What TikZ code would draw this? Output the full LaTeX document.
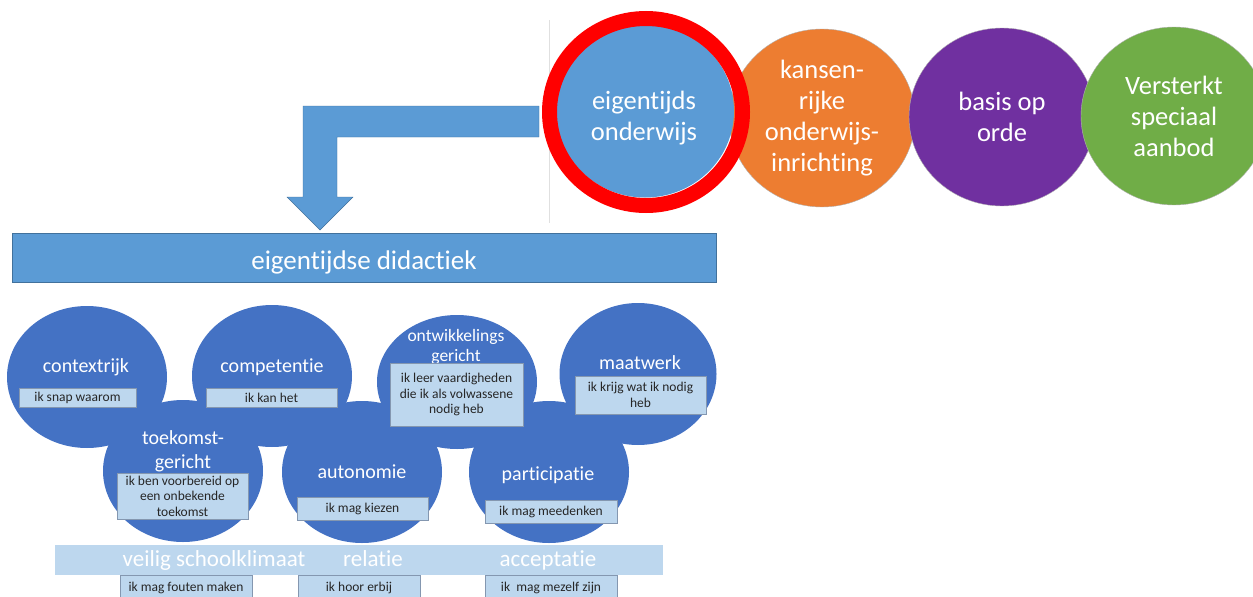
\documentclass[tikz,border=0pt]{standalone}
\usepackage{fontspec}
\setmainfont{Carlito}[Ligatures=NoCommon]
\usepackage{tikz}
\usetikzlibrary{shapes.geometric}

\definecolor{lichtblauw}{HTML}{5B9BD5}
\definecolor{randblauw}{HTML}{41719C}
\definecolor{oranje}{HTML}{ED7D31}
\definecolor{paars}{HTML}{7030A0}
\definecolor{groen}{HTML}{70AD47}
\definecolor{wolkblauw}{HTML}{4472C4}
\definecolor{kaderblauw}{HTML}{BDD7EE}
\definecolor{kaderrand}{HTML}{8497B0}
\definecolor{tekstgrijs}{HTML}{262626}

\tikzset{
  bal/.style={ellipse, inner sep=0pt, draw=black!30, text=white, align=center,
    minimum width=186pt, minimum height=178pt, font=\fontsize{26.5}{31}\selectfont},
  wolk/.style={ellipse, fill=wolkblauw, inner sep=0pt, minimum width=160pt, minimum height=142pt},
  kop/.style={text=white, align=center, inner sep=0pt, font=\fontsize{20}{21}\selectfont},
  kader/.style={rectangle, draw=kaderrand, fill=kaderblauw, inner sep=0pt, align=center,
    text=tekstgrijs, font=\fontsize{13.5}{15.5}\selectfont},
  bandtekst/.style={text=white, inner sep=0pt, anchor=base, font=\fontsize{23}{26}\selectfont}
}

\begin{document}
\begin{tikzpicture}[x=1pt, y=-1pt]
        \useasboundingbox (0,0) rectangle (1253,597);

        % scheiding en pijl
        \draw[black!12] (549,20) -- (549,223);
        \draw[randblauw, fill=lichtblauw] (539,106) -- (303,106) -- (303,197) -- (287,197) -- (320,230)
            -- (353,197) -- (337,197) -- (337,137) -- (539,137) -- cycle;
        \node[rectangle, draw=randblauw, fill=lichtblauw, minimum width=704pt, minimum height=49pt] at (364,257.5) (did) {};
        \node[text=white, inner sep=0pt, anchor=base, font=\fontsize{27}{30}\selectfont] at (364,269) (did_) {eigentijdse didactiek};

        % bovenste rij
        \node[bal, fill=oranje] at (822,118) (kans) {kansen-\\rijke\\onderwijs-\\inrichting};
        \node[bal, fill=paars] at (1002,117) (basis) {basis op\\orde};
        \node[bal, fill=groen] at (1174,116) (vso) {Versterkt\\speciaal\\aanbod};
        \node[bal, fill=lichtblauw, draw=none, minimum width=178pt, minimum height=173pt] at (645,111) (eo) {};
        \node[bal, draw=none] at (644,118) (eo_) {eigentijds\\onderwijs};
        \node[ellipse, draw=red, line width=15pt, minimum width=193pt, minimum height=187pt] at (646,112) (ring) {};

        % wolk van bollen
        \node[wolk] at (87,377) (ctx) {};
        \node[wolk] at (272,376) (comp) {};
        \node[wolk, minimum height=134pt] at (457,382) (ontw) {};
        \node[wolk, minimum width=157pt] at (638,374) (maat) {};
        \node[wolk] at (183,471) (toek) {};
        \node[wolk] at (362,472) (auto) {};
        \node[wolk] at (549,472) (part) {};

        \node[kop, anchor=base] at (86,372) (ctx_) {contextrijk};
        \node[kop, anchor=base] at (272,372) (comp_) {competentie};
        \node[kop, font=\fontsize{17.5}{19.5}\selectfont] at (456,347) (ontw_) {ontwikkelings\\gericht};
        \node[kop, anchor=base] at (640,369) (maat_) {maatwerk};
        \node[kop, font=\fontsize{20}{24}\selectfont] at (183,451) (toek_) {toekomst-\\gericht};
        \node[kop, anchor=base] at (362,478) (auto_) {autonomie};
        \node[kop, anchor=base] at (548,480) (part_) {participatie};

        \node[kader, minimum width=117pt, minimum height=19pt] at (77.5,397.5) (k1) {ik snap waarom};
        \node[kader, minimum width=131pt, minimum height=19pt] at (271.5,397.5) (k2) {ik kan het};
        \node[kader, minimum width=133pt, minimum height=63pt] at (456.5,394.5) (k3) {ik leer vaardigheden\\die ik als volwassene\\nodig heb};
        \node[kader, minimum width=131pt, minimum height=38pt] at (640.5,395) (k4) {ik krijg wat ik nodig\\heb};
        \node[kader, minimum width=131pt, minimum height=46pt] at (182.5,496) (k5) {ik ben voorbereid op\\een onbekende\\toekomst};
        \node[kader, minimum width=131pt, minimum height=23pt] at (362.5,508.5) (k6) {ik mag kiezen};
        \node[kader, minimum width=132pt, minimum height=23pt] at (551,511.5) (k7) {ik mag meedenken};

        % band onderaan
        \node[rectangle, fill=kaderblauw, minimum width=608pt, minimum height=30pt, inner sep=0pt] at (359,560) (band) {};
        \node[bandtekst] at (214,566) (veilig) {veilig schoolklimaat};
        \node[bandtekst] at (373,566) (rel) {relatie};
        \node[bandtekst] at (548,566) (acc) {acceptatie};

        \node[kader, minimum width=132pt, minimum height=25pt] at (186,587.5) (k8) {ik mag fouten maken};
        \node[kader, minimum width=122pt, minimum height=25pt] at (359,587.5) (k9) {ik hoor erbij};
        \node[kader, minimum width=132pt, minimum height=25pt] at (551,587.5) (k10) {ik\ \ mag mezelf zijn};
\end{tikzpicture}
\end{document}
